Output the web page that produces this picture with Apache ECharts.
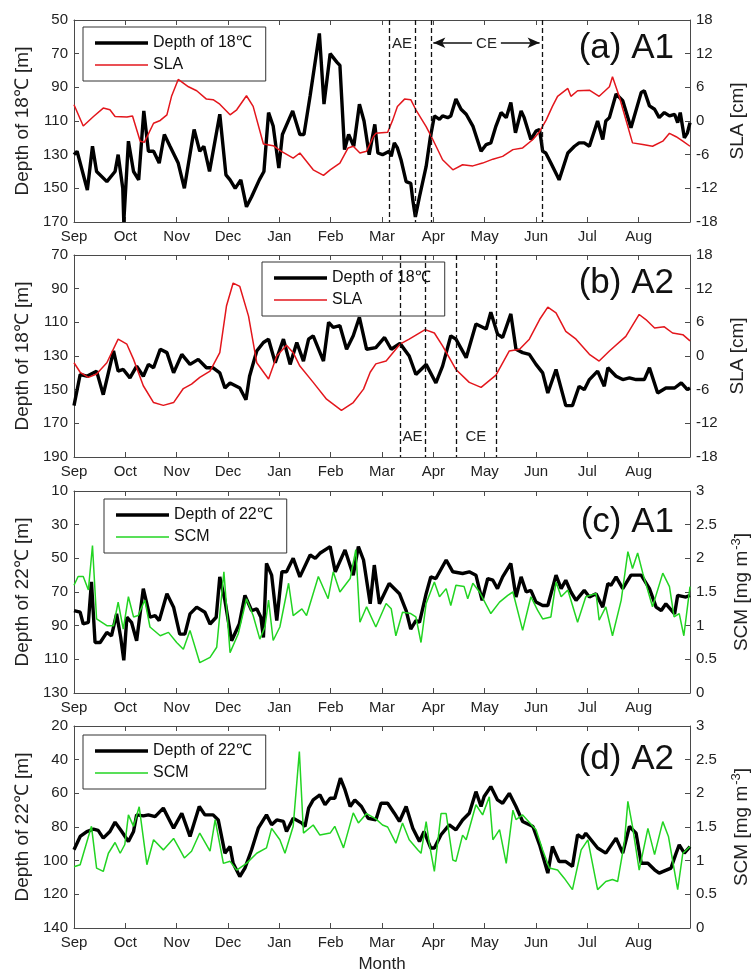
<!DOCTYPE html>
<html>
<head>
<meta charset="utf-8">
<title>Depth of isotherms vs SLA / SCM</title>
<script src="https://cdn.jsdelivr.net/npm/echarts@6/dist/echarts.min.js"></script>
<style>
  html, body { margin: 0; padding: 0; background: #fff; }
  #main { width: 752px; height: 973px; }
</style>
</head>
<body>
<div id="main"></div>
<script>
var months = ['Sep', 'Oct', 'Nov', 'Dec', 'Jan', 'Feb', 'Mar', 'Apr', 'May', 'Jun', 'Jul', 'Aug'];

// [month since 1 Sep, value]
// (a) A1
var depth18A1 = [[0,130],[0.06,128],[0.26,151],[0.36,125],[0.44,140],[0.64,146],[0.80,140],[0.86,130],[0.95,150],[0.97,170],[1.06,122],[1.16,140],[1.26,145],[1.36,104],[1.45,128],[1.55,128],[1.66,135],[1.76,118],[1.87,125],[2.03,135],[2.15,150],[2.34,115],[2.45,128],[2.53,125],[2.64,140],[2.84,106],[2.96,142],[3.04,145],[3.14,150],[3.25,145],[3.36,161],[3.46,155],[3.61,145],[3.70,140],[3.79,105],[3.88,113],[3.99,138],[4.06,118],[4.26,104],[4.30,108],[4.40,118],[4.48,118],[4.60,95],[4.78,58],[4.87,100],[4.99,70],[5.12,75],[5.18,77],[5.27,127],[5.35,118],[5.45,125],[5.56,100],[5.65,110],[5.75,130],[5.86,112],[5.92,129],[6.01,130],[6.14,128],[6.18,131],[6.24,123],[6.30,126],[6.37,133],[6.47,146],[6.56,147],[6.60,157],[6.65,167],[6.73,155],[6.86,137],[6.94,120],[7.02,107],[7.12,109],[7.18,107],[7.28,108],[7.34,107],[7.44,97],[7.54,103],[7.64,106],[7.77,113],[7.93,128],[8.03,124],[8.12,123],[8.22,113],[8.32,105],[8.42,108],[8.51,99],[8.60,117],[8.71,104],[8.77,108],[8.90,121],[9.00,116],[9.07,115],[9.13,128],[9.19,129],[9.29,135],[9.42,143],[9.45,145],[9.62,129],[9.75,125],[9.84,123],[9.94,123],[10.04,125],[10.20,110],[10.30,121],[10.36,110],[10.43,108],[10.56,94],[10.69,98],[10.85,114],[10.88,114],[11.05,93],[11.11,92],[11.21,101],[11.31,103],[11.40,108],[11.50,105],[11.60,107],[11.70,106],[11.76,111],[11.81,105],[11.89,120],[11.95,117],[12.0,111]];
var slaA1 = [[0,2.9],[0.18,-0.9],[0.38,0.8],[0.57,2.3],[0.70,2.0],[0.80,0.8],[1.03,0.7],[1.14,0.9],[1.29,-3.6],[1.37,-3.8],[1.55,-0.4],[1.68,0.1],[1.81,1.1],[1.90,4.4],[2.03,7.4],[2.23,6.1],[2.39,5.4],[2.58,3.9],[2.71,3.8],[2.84,3.0],[3.04,1.1],[3.17,2.0],[3.36,4.5],[3.49,2.6],[3.69,-4.1],[3.88,-4.4],[4.04,-5.4],[4.27,-6.6],[4.40,-5.7],[4.66,-8.7],[4.86,-9.7],[4.99,-8.7],[5.18,-7.5],[5.34,-4.8],[5.44,-4.5],[5.57,-5.7],[5.70,-5.4],[5.83,-2.8],[5.88,-2.2],[6.11,-2.0],[6.21,0.2],[6.30,2.6],[6.44,3.9],[6.56,3.8],[6.66,2.0],[6.86,-1.0],[6.99,-3.3],[7.18,-6.9],[7.38,-8.7],[7.57,-7.8],[7.77,-8.0],[7.96,-7.5],[8.16,-6.8],[8.35,-6.3],[8.55,-5.1],[8.74,-4.8],[8.94,-3.3],[9.07,-1.9],[9.20,0.2],[9.32,2.6],[9.42,4.4],[9.62,5.8],[9.68,4.4],[9.81,5.4],[10.04,5.5],[10.23,4.4],[10.43,6.1],[10.49,7.9],[10.62,4.4],[10.88,-3.9],[11.08,-4.2],[11.27,-4.5],[11.47,-3.6],[11.60,-2.2],[11.73,-2.8],[11.86,-3.6],[12.0,-4.5]];

// (b) A2
var depth18A2 = [[0,159.5],[0.12,141],[0.25,142],[0.44,139],[0.57,153],[0.77,127],[0.86,139],[0.96,138],[1.09,143],[1.22,136],[1.35,142],[1.45,135],[1.55,137],[1.68,126],[1.81,128],[1.94,140],[2.10,129],[2.26,135],[2.42,132],[2.58,137],[2.71,137],[2.84,140],[2.94,149],[3.04,146],[3.23,149],[3.35,156],[3.42,142],[3.56,127],[3.69,122],[3.79,120],[3.92,134],[4.08,120],[4.21,135],[4.34,122],[4.47,133],[4.57,120],[4.66,118],[4.86,133],[4.96,110],[5.05,113],[5.18,112],[5.31,126],[5.44,118],[5.56,107],[5.70,126],[5.88,125],[6.05,119],[6.18,126],[6.35,122.5],[6.53,130],[6.66,141],[6.86,135],[7.05,146],[7.18,136],[7.34,118],[7.44,120],[7.64,131],[7.83,111],[8.03,114],[8.12,104],[8.25,117],[8.35,119],[8.51,105],[8.61,126],[8.74,128],[8.87,129],[9.00,135],[9.13,140],[9.23,152],[9.39,138],[9.58,159.5],[9.71,159.5],[9.84,148],[9.94,150],[10.04,144],[10.20,139],[10.33,148],[10.40,137],[10.56,142],[10.69,144],[10.82,143],[10.95,144],[11.11,144],[11.21,137],[11.37,152],[11.53,149],[11.70,149],[11.83,146],[11.95,150],[12.0,149]];
var slaA2 = [[0,-1.2],[0.12,-2.9],[0.28,-3.8],[0.44,-3.2],[0.64,-1.2],[0.86,3.0],[1.03,2.1],[1.16,-0.6],[1.35,-5.3],[1.55,-8.3],[1.74,-8.8],[1.94,-8.3],[2.13,-5.8],[2.29,-5.0],[2.45,-3.8],[2.65,-2.7],[2.84,0.6],[2.97,8.9],[3.10,13.0],[3.23,12.4],[3.40,7.1],[3.56,-1.2],[3.79,-4.1],[3.95,0.0],[4.14,1.9],[4.27,0.6],[4.40,-1.8],[4.66,-4.7],[4.92,-7.7],[5.21,-9.7],[5.44,-8.3],[5.64,-5.9],[5.77,-2.9],[5.88,-1.4],[6.08,-0.9],[6.35,2.1],[6.53,3.0],[6.84,4.7],[7.02,4.1],[7.18,1.8],[7.44,-2.4],[7.70,-4.7],[7.93,-5.6],[8.22,-3.4],[8.48,0.9],[8.68,1.2],[8.87,3.0],[9.07,6.5],[9.23,8.7],[9.39,7.7],[9.58,4.4],[9.78,3.0],[10.04,0.3],[10.23,-0.9],[10.43,0.9],[10.75,3.5],[11.01,7.4],[11.14,6.5],[11.31,5.0],[11.50,5.2],[11.66,4.1],[11.86,3.8],[12.0,2.7]];

// (c) A1
var depth22A1 = [[0,81],[0.12,82],[0.18,89],[0.28,88],[0.34,64],[0.41,100],[0.51,100],[0.64,94],[0.73,96],[0.83,83],[0.91,97],[0.97,110.6],[1.03,85],[1.12,88],[1.22,99],[1.35,68],[1.48,85],[1.58,84],[1.66,87],[1.81,71],[1.94,79],[2.06,95],[2.16,95],[2.26,83],[2.39,79],[2.55,82],[2.65,89],[2.77,85],[2.84,61],[2.94,75],[3.07,99],[3.22,89],[3.33,72],[3.46,81],[3.56,80],[3.64,85],[3.69,97],[3.75,53],[3.85,60],[3.95,87],[4.05,58],[4.14,58],[4.27,50],[4.40,61],[4.60,48],[4.70,50],[4.79,47],[4.99,43],[5.09,58],[5.28,45],[5.44,60],[5.54,43],[5.64,51],[5.77,77],[5.85,54],[5.95,77],[6.14,65],[6.34,71],[6.47,81],[6.56,92],[6.66,87],[6.73,88],[6.86,71],[6.95,61],[7.05,62],[7.25,51],[7.38,58],[7.57,59],[7.70,58],[7.83,60],[7.95,75],[8.06,62],[8.16,63],[8.25,68],[8.35,61],[8.51,53],[8.61,73],[8.71,61],[8.81,70],[8.90,69],[9.00,76],[9.13,78],[9.23,78],[9.39,60],[9.49,68],[9.58,63],[9.68,70],[9.78,75],[9.94,69],[10.04,73],[10.17,71],[10.30,79],[10.40,65],[10.46,66],[10.56,61],[10.69,68],[10.85,60],[11.05,60],[11.21,68],[11.34,79],[11.44,81],[11.53,77],[11.70,83],[11.76,72],[11.92,73],[12.0,72]];
var scmA1 = [[0,1.6],[0.08,1.73],[0.18,1.73],[0.28,1.53],[0.36,2.19],[0.44,1.1],[0.64,1.0],[0.77,1.0],[0.86,1.35],[0.96,0.95],[1.06,1.43],[1.16,1.13],[1.25,1.15],[1.38,1.38],[1.48,0.98],[1.68,0.85],[1.84,0.9],[2.0,0.75],[2.13,0.65],[2.26,0.93],[2.45,0.45],[2.65,0.53],[2.78,0.68],[2.92,1.8],[3.04,0.6],[3.20,0.88],[3.36,1.4],[3.49,1.15],[3.62,0.8],[3.72,0.98],[3.79,1.38],[3.88,0.78],[4.01,0.98],[4.18,1.63],[4.27,1.15],[4.44,1.25],[4.53,1.15],[4.76,1.73],[4.95,1.4],[5.05,1.8],[5.18,1.5],[5.38,1.7],[5.49,2.13],[5.57,1.05],[5.70,1.28],[5.88,0.98],[6.08,1.33],[6.18,1.25],[6.27,0.85],[6.40,1.2],[6.56,1.18],[6.66,1.13],[6.76,0.75],[6.86,1.33],[7.02,1.65],[7.12,1.43],[7.25,1.55],[7.34,1.3],[7.44,1.6],[7.60,1.58],[7.67,1.4],[7.77,1.63],[7.90,1.5],[8.12,1.18],[8.29,1.35],[8.45,1.45],[8.55,1.5],[8.74,0.93],[8.90,1.43],[9.03,1.23],[9.13,1.1],[9.29,1.13],[9.39,1.65],[9.49,1.43],[9.62,1.53],[9.81,1.05],[9.97,1.43],[10.17,1.48],[10.23,1.08],[10.36,1.28],[10.49,0.85],[10.66,1.38],[10.79,2.1],[10.88,1.85],[10.98,2.08],[11.08,1.78],[11.27,1.28],[11.47,1.78],[11.60,1.58],[11.69,1.13],[11.79,1.18],[11.88,0.85],[12.0,1.58]];

// (d) A2
var depth22A2 = [[0,93.5],[0.12,85.6],[0.25,82.7],[0.38,81.3],[0.47,82],[0.57,86.6],[0.70,82.7],[0.80,77.1],[0.93,82.7],[1.06,88.6],[1.16,82.7],[1.22,72.8],[1.35,73.4],[1.45,72.8],[1.58,73.8],[1.74,68.8],[1.94,80.7],[2.10,71.8],[2.26,85.6],[2.44,67.8],[2.55,72.8],[2.71,72.8],[2.81,75.8],[2.94,95.5],[3.04,91.6],[3.10,101.5],[3.23,109.4],[3.33,104.4],[3.46,93.5],[3.59,80.7],[3.75,72.8],[3.85,78.7],[3.95,75.8],[4.08,76.7],[4.14,82.7],[4.27,74.8],[4.44,77.7],[4.50,79.7],[4.57,68.8],[4.66,63.9],[4.79,60.9],[4.89,66.8],[4.99,62.9],[5.08,62.9],[5.19,51],[5.28,58],[5.38,67.8],[5.47,63.9],[5.60,67.8],[5.73,74.8],[5.88,75.8],[5.98,65.9],[6.11,65.9],[6.24,71.8],[6.34,76.7],[6.47,67.8],[6.60,80.7],[6.73,88.6],[6.82,82.7],[6.95,92.5],[7.02,92.5],[7.15,84.6],[7.31,78.7],[7.44,81.7],[7.57,75.8],[7.70,71.8],[7.83,59],[7.93,67.8],[7.99,61.9],[8.12,56],[8.25,63.9],[8.35,65.9],[8.48,60],[8.61,67.8],[8.74,76.7],[8.94,79.7],[9.07,90.6],[9.23,107.4],[9.32,91.6],[9.45,100.5],[9.58,100.5],[9.71,103.4],[9.81,84.6],[9.91,86.6],[9.97,83.7],[10.20,92.5],[10.36,95.5],[10.56,86.6],[10.69,95.5],[10.82,79.7],[10.95,83.7],[11.05,101.5],[11.18,101.5],[11.31,105.4],[11.40,107.4],[11.63,104.4],[11.73,95.5],[11.79,90.6],[11.89,95.5],[12.0,91.6]];
var scmA2 = [[0,0.91],[0.12,0.94],[0.34,1.51],[0.44,0.89],[0.57,0.84],[0.67,1.11],[0.80,1.27],[0.90,1.11],[0.99,1.24],[1.06,1.68],[1.16,1.51],[1.27,1.80],[1.42,0.94],[1.55,1.31],[1.74,1.16],[1.94,1.33],[2.03,1.21],[2.15,1.04],[2.29,1.14],[2.45,1.41],[2.65,1.14],[2.75,1.61],[2.91,0.96],[3.04,0.99],[3.17,0.86],[3.36,0.96],[3.56,1.11],[3.75,1.19],[3.85,1.48],[4.01,1.31],[4.11,1.11],[4.27,1.51],[4.39,2.62],[4.47,1.41],[4.66,1.53],[4.79,1.38],[4.99,1.41],[5.08,1.51],[5.25,1.19],[5.44,1.71],[5.54,1.56],[5.70,1.70],[5.88,1.62],[6.01,1.53],[6.11,1.5],[6.27,1.26],[6.40,1.56],[6.53,1.31],[6.70,1.16],[6.76,1.11],[6.86,1.58],[6.92,1.26],[7.02,0.84],[7.15,1.70],[7.25,1.70],[7.38,1.01],[7.44,0.99],[7.57,1.38],[7.64,1.31],[7.83,1.83],[7.96,1.68],[8.09,1.95],[8.16,1.31],[8.29,1.46],[8.42,0.96],[8.55,1.75],[8.61,1.61],[8.74,1.68],[9.00,1.46],[9.13,1.16],[9.26,0.89],[9.42,0.86],[9.55,0.74],[9.71,0.57],[9.88,1.16],[10.01,1.31],[10.20,0.57],[10.36,0.69],[10.49,0.72],[10.59,0.69],[10.72,1.26],[10.79,1.88],[10.88,1.51],[11.01,0.86],[11.18,1.48],[11.31,1.09],[11.47,1.58],[11.58,1.36],[11.76,0.57],[11.86,1.11],[12.0,1.21]];

// eddy periods (month positions of the dashed lines)
var eddyLinesA1 = [6.14, 6.64, 6.95, 9.12];
var eddyLinesA2 = [6.35, 6.84, 7.44, 8.22];

var FONT = '"Liberation Sans", Arial, Helvetica, sans-serif';
var RED = '#e3161c';
var GREEN = '#22d422';
var AXIS = '#4a4a4a';
var THICK = 3.4, THIN = 1.5;

var panels = [
  { top: 20, min: 50, max: 170, rmin: -18, rmax: 18, rint: 6,
    depth: depth18A1, other: slaA1, depthName: 'Depth of 18℃', otherName: 'SLA', color: RED,
    leftName: 'Depth of 18℃ [m]', rightName: 'SLA [cm]', rightGap: 38, title: '(a) A1', titleTop: 31,
    legendLeft: 83, legendTop: 27 },
  { top: 255, min: 70, max: 190, rmin: -18, rmax: 18, rint: 6,
    depth: depth18A2, other: slaA2, depthName: 'Depth of 18℃', otherName: 'SLA', color: RED,
    leftName: 'Depth of 18℃ [m]', rightName: 'SLA [cm]', rightGap: 38, title: '(b) A2', titleTop: 266,
    legendLeft: 262, legendTop: 262 },
  { top: 491, min: 10, max: 130, rmin: 0, rmax: 3, rint: 0.5,
    depth: depth22A1, other: scmA1, depthName: 'Depth of 22℃', otherName: 'SCM', color: GREEN,
    leftName: 'Depth of 22℃ [m]', rightName: 'SCM [mg m{sup|-3}]', rightGap: 40, title: '(c) A1', titleTop: 505,
    legendLeft: 104, legendTop: 499 },
  { top: 726, min: 20, max: 140, rmin: 0, rmax: 3, rint: 0.5,
    depth: depth22A2, other: scmA2, depthName: 'Depth of 22℃', otherName: 'SCM', color: GREEN,
    leftName: 'Depth of 22℃ [m]', rightName: 'SCM [mg m{sup|-3}]', rightGap: 40, title: '(d) A2', titleTop: 742,
    legendLeft: 83, legendTop: 735 }
];

function barIcon(h) { return 'path://M0,0H53V' + h + 'H0Z'; }

var grids = [], xAxes = [], yAxes = [], series = [], legends = [], titles = [];

panels.forEach(function (p, i) {
  grids.push({ left: 74, right: 62, top: p.top, height: 202, outerBoundsMode: 'none', containLabel: false });

  var xBase = {
    gridIndex: i, type: 'value', min: 0, max: 12, interval: 1,
    axisLine: { show: true, onZero: false, lineStyle: { color: AXIS, width: 1 } },
    axisTick: { show: true, inside: true, length: 5, lineStyle: { color: AXIS } },
    splitLine: { show: false }
  };
  xAxes.push(Object.assign({}, xBase, {
    position: 'bottom',
    axisLabel: { color: '#222', fontSize: 15, margin: 7, fontFamily: FONT,
      formatter: function (v) { return months[v] || ''; } },
    name: i === 3 ? 'Month' : '', nameLocation: 'middle', nameGap: 28,
    nameTextStyle: { color: '#222', fontSize: 17, fontFamily: FONT }
  }));
  xAxes.push(Object.assign({}, xBase, { position: 'top', axisLabel: { show: false } }));

  yAxes.push({
    gridIndex: i, type: 'value', position: 'left', inverse: true,
    min: p.min, max: p.max, interval: 20,
    axisLine: { show: true, onZero: false, lineStyle: { color: AXIS } },
    axisTick: { show: true, inside: true, length: 5, lineStyle: { color: AXIS } },
    axisLabel: { color: '#222', fontSize: 15, margin: 6, fontFamily: FONT },
    splitLine: { show: false },
    name: p.leftName, nameLocation: 'middle', nameRotate: 90, nameGap: 40,
    nameTextStyle: { color: '#222', fontSize: 19, fontFamily: FONT }
  });
  yAxes.push({
    gridIndex: i, type: 'value', position: 'right',
    min: p.rmin, max: p.rmax, interval: p.rint,
    axisLine: { show: true, onZero: false, lineStyle: { color: AXIS } },
    axisTick: { show: true, inside: true, length: 5, lineStyle: { color: AXIS } },
    axisLabel: { color: '#222', fontSize: 15, margin: 6, fontFamily: FONT },
    splitLine: { show: false },
    name: p.rightName, nameLocation: 'middle', nameRotate: 90, nameGap: p.rightGap,
    nameTextStyle: { color: '#222', fontSize: 19, fontFamily: FONT,
      rich: { sup: { fontSize: 13, padding: [0, 0, 11, 1], color: '#222', fontFamily: FONT } } }
  });

  series.push({
    name: p.depthName, type: 'line', xAxisIndex: 2 * i, yAxisIndex: 2 * i,
    data: p.depth, symbol: 'none', z: 3,
    lineStyle: { color: '#000', width: THICK }, itemStyle: { color: '#000' }
  });
  series.push({
    name: p.otherName, type: 'line', xAxisIndex: 2 * i, yAxisIndex: 2 * i + 1,
    data: p.other, symbol: 'none', z: 4,
    lineStyle: { color: p.color, width: THIN }, itemStyle: { color: p.color }
  });

  legends.push({
    data: [
      { name: p.depthName, icon: barIcon(THICK) },
      { name: p.otherName, icon: barIcon(THIN) }
    ],
    orient: 'vertical', symbolKeepAspect: true,
    left: p.legendLeft, top: p.legendTop, itemWidth: 53, itemHeight: 14, itemGap: 6,
    padding: [8, 14, 8, 12], borderColor: '#333', borderWidth: 1, backgroundColor: '#fff',
    textStyle: { color: '#111', fontSize: 16, fontFamily: FONT },
    selectedMode: false
  });

  titles.push({
    text: p.title, right: 78, top: p.titleTop, padding: 0,
    textStyle: { color: '#111', fontSize: 35, fontWeight: 'normal', fontFamily: FONT }
  });
});

var dashStyle = { color: '#111', type: [5, 3], width: 1.3 };

// (a) eddy markers
series[0].markLine = {
  silent: true, symbol: 'none', animation: false,
  label: { show: false },
  lineStyle: dashStyle,
  data: eddyLinesA1.map(function (v) { return { xAxis: v }; }).concat([[
    { coord: [eddyLinesA1[2] + 0.05, 63.5], symbol: 'arrow', symbolSize: [8, 12] },
    { coord: [eddyLinesA1[3] - 0.05, 63.5], symbol: 'arrow', symbolSize: [8, 12],
      lineStyle: { color: '#111', type: 'solid', width: 1.5 },
      label: { show: true, position: 'middle', distance: -9, formatter: 'CE', color: '#222', fontSize: 15,
        fontFamily: FONT, backgroundColor: '#fff', padding: [0, 4] } }
  ]])
};
series[0].markArea = {
  silent: true, itemStyle: { color: 'rgba(0,0,0,0)' },
  label: { show: true, position: 'insideTop', distance: 16, color: '#222', fontSize: 15, fontFamily: FONT },
  data: [[{ xAxis: eddyLinesA1[0], name: 'AE' }, { xAxis: eddyLinesA1[1] }]]
};

// (b) eddy markers
series[2].markLine = {
  silent: true, symbol: 'none', animation: false,
  label: { show: false },
  lineStyle: dashStyle,
  data: eddyLinesA2.map(function (v) { return { xAxis: v }; })
};
series[2].markArea = {
  silent: true, itemStyle: { color: 'rgba(0,0,0,0)' },
  label: { show: true, position: 'insideBottom', distance: 13, color: '#222', fontSize: 15, fontFamily: FONT },
  data: [
    [{ xAxis: eddyLinesA2[0], name: 'AE' }, { xAxis: eddyLinesA2[1] }],
    [{ xAxis: eddyLinesA2[2], name: 'CE' }, { xAxis: eddyLinesA2[3] }]
  ]
};

var chart = echarts.init(document.getElementById('main'), null, { renderer: 'canvas' });
chart.setOption({
  animation: false,
  backgroundColor: '#fff',
  textStyle: { fontFamily: FONT },
  title: titles,
  legend: legends,
  grid: grids,
  xAxis: xAxes,
  yAxis: yAxes,
  series: series
});
</script>
</body>
</html>
